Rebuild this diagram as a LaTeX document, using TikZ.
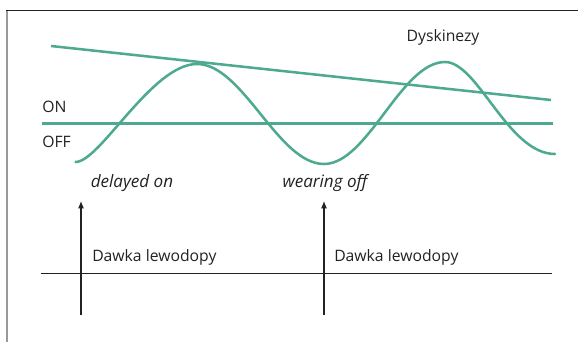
\documentclass[tikz,border=0pt]{standalone}
\usepackage{fontspec}
\setmainfont{Open Sans}
\usetikzlibrary{arrows.meta}
\definecolor{curvecol}{HTML}{4DAA90}
\definecolor{inkcol}{HTML}{222222}
\tikzset{
  curve/.style={draw=curvecol, line width=1.9pt, line cap=round},
  lbl/.style={font=\fontsize{11.8}{13}\selectfont, text=inkcol, inner sep=0pt},
  ilbl/.style={lbl, font=\fontsize{12.8}{14}\selectfont\itshape},
  axisline/.style={draw=inkcol, line width=0.75pt},
  dosearrow/.style={draw=inkcol, line width=0.8pt, -{Latex[length=5.5pt,width=4.5pt]}}
}
\begin{document}
\begin{tikzpicture}[x=0.75pt,y=-0.75pt]
\useasboundingbox (0,0) rectangle (578,342);
% frame
\draw[draw=gray!80, line width=1.5pt] (7,342) -- (7,10.5);
\draw[draw=inkcol, line width=0.8pt] (6.3,10.7) -- (578,10.7);
% labels
\node[lbl] (dysk) at (443,37) {Dyskinezy};
\node[lbl, anchor=west] (on) at (42,107) {ON};
\node[lbl, anchor=west] (off) at (42,142) {OFF};
\node[ilbl] (delayed) at (132,183) {delayed on};
\node[ilbl] (wearing) at (325,183) {wearing off};
\node[lbl, anchor=west] (dose1) at (92,257) {Dawka lewodopy};
\node[lbl, anchor=west] (dose2) at (334,257) {Dawka lewodopy};
% threshold lines
\coordinate (dA) at (51,46);
\coordinate (dB) at (551,100);
\coordinate (oA) at (42,123.7);
\coordinate (oB) at (553,123.7);
\draw[curve, line cap=butt] (dA) -- (dB);
\draw[curve, line cap=butt] (oA) -- (oB);
% response curve
\draw[curve] (75.6,162) .. controls (100,162) and (152,64) .. (197,64)
  .. controls (243,64) and (278,164) .. (324,164)
  .. controls (368,164) and (401,62) .. (445,62)
  .. controls (478,62) and (508,154) .. (555,154);
% time axis
\coordinate (tA) at (40.5,273);
\coordinate (tB) at (552,273);
\draw[axisline] (tA) -- (tB);
% dose arrows
\coordinate (a1b) at (81,315);
\coordinate (a1t) at (81,201);
\coordinate (a2b) at (324,315);
\coordinate (a2t) at (324,201);
\draw[dosearrow] (a1b) -- (a1t);
\draw[dosearrow] (a2b) -- (a2t);
\end{tikzpicture}
\end{document}
